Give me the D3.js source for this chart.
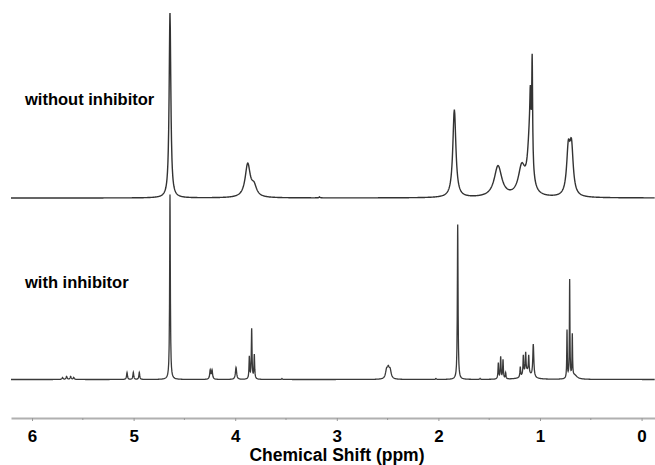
<!DOCTYPE html>
<html>
<head>
<script src="https://cdn.jsdelivr.net/npm/d3@7"></script>
<style>
  body { margin: 0; background: #fff; }
  text { font-family: Arial, "Liberation Sans", sans-serif; font-weight: bold; }
</style>
</head>
<body>
<svg width="655" height="465"></svg>
<script>
// peak lists: position (ppm), height (arb.), half width (ppm)
const topPpm    = [4.642, 3.877, 3.815, 3.17, 1.843, 1.413, 1.18, 1.10, 1.095, 1.077, 0.721, 0.690];
const topHeight = [185,   33,    10,    1,    88,    31,    28,   60,   42,    103,   44,    46];
const topWidth  = [0.010, 0.030, 0.030, 0.005, 0.018, 0.045, 0.04, 0.025, 0.006, 0.005, 0.020, 0.020];

const botPpm    = [5.70, 5.66, 5.62, 5.59, 5.065, 5.003, 4.944, 4.642, 4.246, 4.228, 3.992,
                   3.861, 3.838, 3.812, 3.54, 2.51, 2.493, 2.475, 2.024, 1.81, 1.59,
                   1.410, 1.387, 1.364, 1.338, 1.194, 1.164, 1.141, 1.111, 1.066, 1.13,
                   0.734, 0.708, 0.682, 0.66];
const botHeight = [2, 3, 3, 2, 7, 7, 7, 185, 9, 9, 12,
                   22, 50, 24, 1, 8, 9, 8, 1, 155, 1,
                   16, 22, 19, 6, 10, 19, 19, 17, 33, 8,
                   48, 98, 42, 4];
const botWidth  = [0.006, 0.006, 0.006, 0.006, 0.005, 0.005, 0.005, 0.004, 0.006, 0.006, 0.007,
                   0.004, 0.004, 0.004, 0.004, 0.012, 0.012, 0.012, 0.004, 0.004, 0.004,
                   0.004, 0.004, 0.004, 0.004, 0.004, 0.004, 0.004, 0.004, 0.006, 0.04,
                   0.003, 0.003, 0.003, 0.03];

const tickValues = [6, 5, 4, 3, 2, 1, 0];
const minorTicks = [5.5, 4.5, 3.5, 2.5, 1.5, 0.5];
const labels = ["without inhibitor", "with inhibitor"];

const svg = d3.select("svg");

const x = d3.scaleLinear()
  .domain([6.207, -0.132])
  .range([11, 655]);

const yTop = d3.scaleLinear().domain([0, 200]).range([198, -2]);
const yBot = d3.scaleLinear().domain([0, 200]).range([379.5, 179.5]);

function spectrum(ppm, h, w) {
  // sampling grid: even steps plus extra samples around each line
  let xs = d3.range(6.207, -0.133, -0.004);
  ppm.forEach((p, i) => {
    [-6, -3, -2, -1.2, -0.6, -0.3, 0, 0.3, 0.6, 1.2, 2, 3, 6].forEach(k => xs.push(p + k * w[i]));
  });
  xs = xs.filter(v => v <= 6.207 && v >= -0.132).sort((a, b) => b - a);
  return xs.map(v => {
    let s = 0;
    ppm.forEach((p, i) => {
      const d = (v - p) / w[i];
      s += h[i] / (1 + d * d);
    });
    return [v, s];
  });
}

const lineTop = d3.line().x(d => x(d[0])).y(d => yTop(d[1]));
const lineBot = d3.line().x(d => x(d[0])).y(d => yBot(d[1]));

svg.append("path")
  .attr("d", lineBot(spectrum(botPpm, botHeight, botWidth)))
  .attr("fill", "none")
  .attr("stroke", "#3a3a3a")
  .attr("stroke-width", 1.3);

svg.append("path")
  .attr("d", lineTop(spectrum(topPpm, topHeight, topWidth)))
  .attr("fill", "none")
  .attr("stroke", "#333")
  .attr("stroke-width", 1.4);

// axis
const axisG = svg.append("g")
  .attr("class", "xAxis")
  .attr("transform", "translate(0,418)");

axisG.call(d3.axisBottom(x).tickValues(tickValues).tickFormat(d3.format("d"))
  .tickSize(3).tickSizeOuter(0).tickPadding(9));
axisG.select(".domain").attr("stroke", "#b0b0b0").attr("stroke-width", 2);
axisG.selectAll(".tick line").attr("stroke", "#999");
axisG.selectAll(".tick text")
  .style("font-size", "17px")
  .attr("fill", "#000");

axisG.selectAll(".minor")
  .data(minorTicks)
  .enter()
  .append("line")
  .attr("x1", d => x(d))
  .attr("x2", d => x(d))
  .attr("y1", 0)
  .attr("y2", 2)
  .attr("stroke", "#999");

svg.append("text")
  .text("Chemical Shift (ppm)")
  .attr("x", 337)
  .attr("y", 461)
  .attr("text-anchor", "middle")
  .style("font-size", "17.5px");

svg.append("text")
  .text(labels[0])
  .attr("x", 25)
  .attr("y", 105)
  .style("font-size", "16.5px");

svg.append("text")
  .text(labels[1])
  .attr("x", 25)
  .attr("y", 288)
  .style("font-size", "16.5px");
</script>
</body>
</html>
